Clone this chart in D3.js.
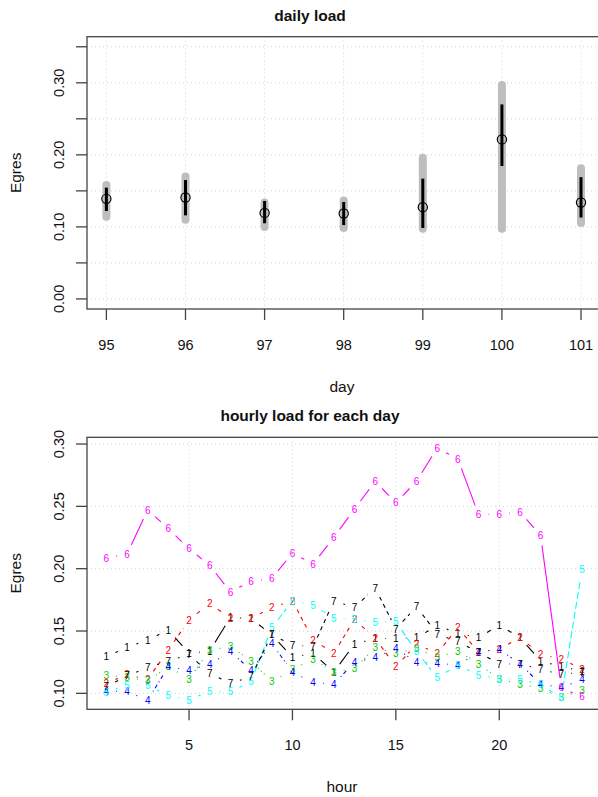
<!DOCTYPE html>
<html>
<head>
<meta charset="utf-8">
<script src="https://cdn.jsdelivr.net/npm/d3@7/dist/d3.min.js"></script>
<style>
  body { margin: 0; background: #fff; }
  text { font-family: "Liberation Sans", Arial, sans-serif; fill: #111; }
</style>
</head>
<body>
<div id="chart"></div>
<script>
// ---------------- data ----------------
// daily load (top panel)
const days = [95, 96, 97, 98, 99, 100, 101];
const dayMean = [0.1389, 0.1408, 0.1194, 0.1186, 0.1274, 0.2214, 0.1339];
const dayMin = [0.1140, 0.1100, 0.1000, 0.0985, 0.0975, 0.0973, 0.1055];
const dayMax = [0.1580, 0.1700, 0.1340, 0.1365, 0.1960, 0.2968, 0.1815];
const daySdLo = [0.1220, 0.1160, 0.1050, 0.1025, 0.0985, 0.1845, 0.1130];
const daySdHi = [0.1545, 0.1650, 0.1360, 0.1345, 0.1670, 0.2700, 0.1690];
const dayYTicks = [0, 0.05, 0.1, 0.15, 0.2, 0.25, 0.3, 0.35];
const dayYLabels = [0, 0.1, 0.2, 0.3];

// hourly load (bottom panel), one array per day
const hours = [1, 2, 3, 4, 5, 6, 7, 8, 9, 10, 11, 12, 13, 14, 15, 16, 17, 18, 19, 20, 21, 22, 23, 24];
const hourly95 = [0.1294, 0.1369, 0.1428, 0.1508, 0.1320, 0.1340, 0.1610, 0.1600, 0.1470, 0.1290, 0.1320, 0.1170,
                  0.1396, 0.1440, 0.1441, 0.1447, 0.1543, 0.1482, 0.1447, 0.1548, 0.1447, 0.1260, 0.1214, 0.1180];
const hourly96 = [0.1080, 0.1152, 0.1110, 0.1348, 0.1589, 0.1722, 0.1602, 0.1602, 0.1688, 0.1741, 0.1428, 0.1321,
                  0.1594, 0.1441, 0.1214, 0.1393, 0.1321, 0.1527, 0.1330, 0.1356, 0.1447, 0.1313, 0.1276, 0.1195];
const hourly97 = [0.1147, 0.1126, 0.1100, 0.1214, 0.1115, 0.1348, 0.1375, 0.1260, 0.1094, 0.1190, 0.1276, 0.1169,
                  0.1200, 0.1366, 0.1321, 0.1360, 0.1286, 0.1340, 0.1235, 0.1115, 0.1072, 0.1040, 0.0965, 0.1027];
const hourly98 = [0.1019, 0.1013, 0.0946, 0.1214, 0.1187, 0.1233, 0.1334, 0.1187, 0.1401, 0.1170, 0.1086, 0.1075,
                  0.1249, 0.1286, 0.1361, 0.1249, 0.1241, 0.1227, 0.1330, 0.1356, 0.1235, 0.1075, 0.1045, 0.1112];
const hourly99 = [0.1008, 0.1067, 0.1062, 0.0981, 0.0946, 0.1019, 0.1013, 0.1094, 0.1527, 0.1741, 0.1709, 0.1602,
                  0.1594, 0.1570, 0.1575, 0.1334, 0.1126, 0.1227, 0.1147, 0.1115, 0.1115, 0.1070, 0.0965, 0.1995];
const hourly100 = [0.2083, 0.2118, 0.2471, 0.2321, 0.2160, 0.2027, 0.1813, 0.1901, 0.1920, 0.2126, 0.2037, 0.2251,
                   0.2479, 0.2701, 0.2529, 0.2701, 0.2968, 0.2880, 0.2433, 0.2439, 0.2455, 0.2267, 0.1045, 0.0973];
const hourly101 = [0.1054, 0.1140, 0.1206, 0.1260, 0.1310, 0.1160, 0.1080, 0.1134, 0.1470, 0.1388, 0.1375, 0.1740,
                   0.1688, 0.1845, 0.1516, 0.1696, 0.1476, 0.1415, 0.1330, 0.1235, 0.1235, 0.1193, 0.1152, 0.1169];
const hourlySeries = [hourly95, hourly96, hourly97, hourly98, hourly99, hourly100, hourly101];
const seriesLabels = ["1", "2", "3", "4", "5", "6", "7"];
const hourXTicks = [5, 10, 15, 20];
const hourYTicks = [0.1, 0.15, 0.2, 0.25, 0.3];

// R-ish palette and line types (col = 1:6, lty = 1:5, both recycled)
const palette = ["#000000", "#ff0000", "#00cd00", "#0000ff", "#00ffff", "#ff00ff"];
const ltys = [null, "4,4", "1,3", "1,3,4,3", "7,3"];

// ---------------- svg ----------------
const W = 598, H = 797;
const svg = d3.select("#chart").append("svg").attr("width", W).attr("height", H);

const fmt2 = d3.format(".2f");
const left = 87;

// dotted grid + box + ticks, shared by both panels
function frame(x, y, xt, yt, ylab, top, bottom, opts) {
  const g = svg.append("g");
  // grid
  g.selectAll(".gx").data(xt).enter().append("line")
    .attr("x1", d => x(d)).attr("x2", d => x(d))
    .attr("y1", top).attr("y2", bottom)
    .attr("stroke", "#d3d3d3").attr("stroke-dasharray", "1,3");
  g.selectAll(".gy").data(yt).enter().append("line")
    .attr("x1", left).attr("x2", W)
    .attr("y1", d => y(d)).attr("y2", d => y(d))
    .attr("stroke", "#d3d3d3").attr("stroke-dasharray", "1,3");
  // box
  g.append("rect").attr("x", left).attr("y", top)
    .attr("width", 520).attr("height", bottom - top)
    .attr("fill", "none").attr("stroke", "#444").attr("stroke-width", 1.3);
  // x ticks
  g.selectAll(".tx").data(xt).enter().append("line")
    .attr("x1", d => x(d)).attr("x2", d => x(d))
    .attr("y1", bottom).attr("y2", bottom + 11)
    .attr("stroke", "#444").attr("stroke-width", 1.3);
  g.selectAll(".lx").data(xt).enter().append("text")
    .attr("x", d => x(d)).attr("y", bottom + 41)
    .attr("text-anchor", "middle").attr("font-size", 14.5)
    .text(d => d);
  // y ticks
  g.selectAll(".ty").data(yt).enter().append("line")
    .attr("x1", left - 11).attr("x2", left)
    .attr("y1", d => y(d)).attr("y2", d => y(d))
    .attr("stroke", "#444").attr("stroke-width", 1.3);
  g.selectAll(".ly").data(ylab).enter().append("text")
    .attr("transform", d => `translate(64,${y(d)}) rotate(-90)`)
    .attr("text-anchor", "middle").attr("font-size", 14.5)
    .text(d => fmt2(d));
  // titles
  g.append("text").attr("x", 310).attr("y", top - 16)
    .attr("text-anchor", "middle").attr("font-size", 15.5).attr("font-weight", "bold")
    .text(opts.title);
  g.append("text").attr("x", 342).attr("y", bottom + 83)
    .attr("text-anchor", "middle").attr("font-size", 15.5)
    .text(opts.xlab);
  g.append("text").attr("transform", `translate(21,${(top + bottom) / 2}) rotate(-90)`)
    .attr("text-anchor", "middle").attr("font-size", 15.5)
    .text("Egres");
  return g;
}

////////////////////////////  top: daily load  ////////////////////////////
const top1 = 36.7, bot1 = 309;
const x1 = d3.scaleLinear().domain([94.76, 101.24]).range([87.4, 600]);
const y1 = d3.scaleLinear().domain([-0.014, 0.364]).range([bot1, top1]);

frame(x1, y1, days, dayYTicks, dayYLabels, top1, bot1, { title: "daily load", xlab: "day" });

const g1 = svg.append("g");
g1.selectAll(".range").data(days).enter().append("line")
  .attr("x1", d => x1(d)).attr("x2", d => x1(d))
  .attr("y1", (d, i) => y1(dayMin[i])).attr("y2", (d, i) => y1(dayMax[i]))
  .attr("stroke", "#bebebe").attr("stroke-width", 8).attr("stroke-linecap", "round");
g1.selectAll(".sd").data(days).enter().append("line")
  .attr("x1", d => x1(d)).attr("x2", d => x1(d))
  .attr("y1", (d, i) => y1(daySdLo[i])).attr("y2", (d, i) => y1(daySdHi[i]))
  .attr("stroke", "#000").attr("stroke-width", 3);
g1.selectAll(".mean").data(days).enter().append("circle")
  .attr("cx", d => x1(d)).attr("cy", (d, i) => y1(dayMean[i]))
  .attr("r", 4.6).attr("fill", "none").attr("stroke", "#000").attr("stroke-width", 1.2);

////////////////////////////  bottom: hourly load  ////////////////////////////
const top2 = 437.3, bot2 = 709.3;
const x2 = d3.scaleLinear().domain([0.08, 24.92]).range([87.3, 601]);
const y2 = d3.scaleLinear().domain([0.0872, 0.3054]).range([bot2, top2]);

frame(x2, y2, hourXTicks, hourYTicks, hourYTicks, top2, bot2, { title: "hourly load for each day", xlab: "hour" });

const gap = 10; // type = "b": lines stop short of the symbols
const clip = svg.append("clipPath").attr("id", "clip2").append("rect")
  .attr("x", left).attr("y", top2).attr("width", W - left).attr("height", bot2 - top2);
const g2 = svg.append("g").attr("clip-path", "url(#clip2)");

hourlySeries.forEach((vals, k) => {
  const col = palette[k % 6];
  const dash = ltys[k % 5];
  const segs = [];
  for (let i = 0; i < vals.length - 1; i++) {
    const xa = x2(hours[i]), ya = y2(vals[i]);
    const xb = x2(hours[i + 1]), yb = y2(vals[i + 1]);
    const len = Math.hypot(xb - xa, yb - ya);
    if (len > 2 * gap) {
      const ux = (xb - xa) / len, uy = (yb - ya) / len;
      segs.push([xa + ux * gap, ya + uy * gap, xb - ux * gap, yb - uy * gap]);
    }
  }
  const s = g2.append("g");
  s.selectAll("line").data(segs).enter().append("line")
    .attr("x1", d => d[0]).attr("y1", d => d[1])
    .attr("x2", d => d[2]).attr("y2", d => d[3])
    .attr("stroke", col).attr("stroke-width", 1.1)
    .attr("stroke-dasharray", dash);
  s.selectAll("text").data(vals).enter().append("text")
    .attr("x", (d, i) => x2(hours[i])).attr("y", d => y2(d))
    .attr("dy", "0.36em").attr("text-anchor", "middle")
    .attr("font-size", 10).style("fill", col)
    .text(seriesLabels[k]);
});
</script>
</body>
</html>
